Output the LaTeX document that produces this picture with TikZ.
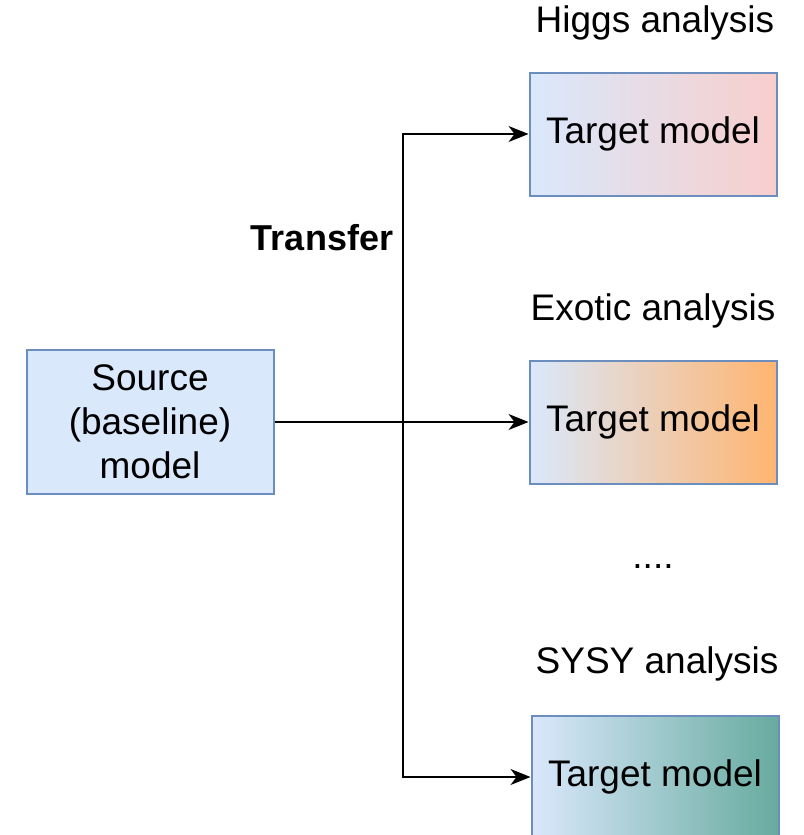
\documentclass[tikz,border=0pt]{standalone}
\usepackage{fontspec}
\setmainfont{Liberation Sans}
\usetikzlibrary{arrows.meta}
\definecolor{srcblue}{HTML}{DAE8FC}
\definecolor{edgeblue}{HTML}{6C8EBF}
\definecolor{higgs}{HTML}{F8CECC}
\definecolor{exotic}{HTML}{FFB570}
\definecolor{susy}{HTML}{67AB9F}

\begin{document}
\begin{tikzpicture}[x=1pt, y=-1pt,
  box/.style={draw=edgeblue, line width=2pt, minimum width=247pt, minimum height=123pt,
    inner sep=0pt, align=center, font=\fontsize{37}{44}\selectfont},
  lbl/.style={font=\fontsize{37}{44}\selectfont},
  arrow/.style={-{Stealth[length=20pt, width=16pt, inset=6pt]}, line width=1.5pt}]
\useasboundingbox (0, 0) rectangle (803, 835);
% source and the three targets
\node [box, fill=srcblue, minimum height=144pt] (src) at (150, 422) {Source\\(baseline)\\model};
\node [box, left color=srcblue, right color=higgs] (t1) at (653, 134) {\raisebox{-3pt}{Target model}};
\node [box, left color=srcblue, right color=exotic] (t2) at (653, 422) {\raisebox{-3pt}{Target model}};
\node [box, left color=srcblue, right color=susy] (t3) at (655, 777) {\raisebox{-3pt}{Target model}};
\node [lbl] (l1) at (655, 23) {Higgs analysis};
\node [lbl] (l2) at (653, 311) {Exotic analysis};
\node [lbl] (dots) at (653, 567) {....};
\node [lbl] (l3) at (657, 664) {SYSY analysis};
\node [lbl, font=\fontsize{36}{44}\selectfont\bfseries] (tr) at (322, 238) {Transfer};
% connectors
\coordinate (split) at (403, 422);
\draw [arrow] (src.east) -- (t2.west);
\draw [arrow] (split) |- (t1.west);
\draw [arrow] (split) |- (t3.west);
\end{tikzpicture}
\end{document}
